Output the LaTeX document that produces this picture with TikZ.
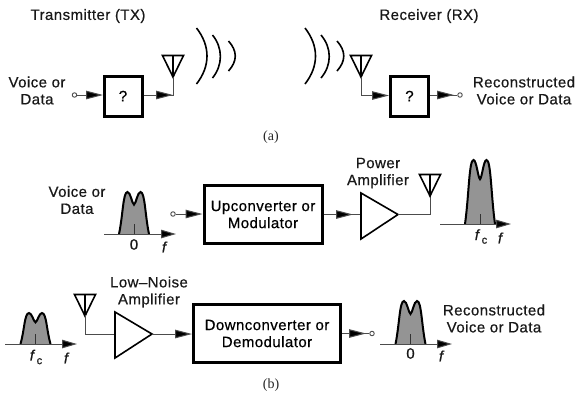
\documentclass[tikz,border=0pt]{standalone}
\usepackage{fontspec}
\setmainfont[FakeBold=0.55,LetterSpace=3]{Liberation Sans}
\newfontfamily\capfont{Liberation Serif}
\usetikzlibrary{arrows.meta}
\newcommand{\lbl}{\fontsize{15}{17}\selectfont}
\tikzset{
  wire/.style={line width=1pt,draw=black!70},
  tipped/.style={wire,-{Triangle[length=17pt,width=8.5pt,fill=black]}},
  thickbox/.style={draw=black,line width=3pt,fill=white,align=center,inner sep=0pt,font=\lbl},
  term/.style={circle,draw=black!70,line width=0.9pt,fill=white,minimum size=4.5pt,inner sep=0pt},
  lbl/.style={font=\lbl,align=center,inner sep=0pt,text=black!90},
  captext/.style={font=\capfont\fontsize{14}{16}\selectfont,inner sep=0pt,text=black!85},
  wave/.style={line width=1.6pt,draw=black},
  amp/.style={line width=1.6pt,draw=black,fill=white,line join=miter},
  ant/.style={line width=1.6pt,draw=black,line join=miter},
  spec/.style={line width=2pt,draw=black},
  axisline/.style={wire,-{Triangle[length=15pt,width=8.5pt,fill=black]}},
  ticky/.style={line width=0.7pt,draw=black!80},
  pics/antenna/.style={code={
    \draw[ant] (-10.5,0) -- (10.5,0) -- (0,21.5) -- cycle;
    \draw[line width=1.2pt,draw=black] (0,0) -- (0,21.5);
  }},
}
\newcommand{\spectrum}[3]{% centre x, base y, height
  \fill[black!42] (#1-15,#2) .. controls (#1-11,#2-0.45*#3) and (#1-11,#2-#3) .. (#1-6.5,#2-#3)
    .. controls (#1-3.5,#2-#3) and (#1-2,#2-0.72*#3) .. (#1,#2-0.70*#3)
    .. controls (#1+2,#2-0.72*#3) and (#1+3.5,#2-#3) .. (#1+6.5,#2-#3)
    .. controls (#1+11,#2-#3) and (#1+11,#2-0.45*#3) .. (#1+15,#2) -- cycle;
  \draw[spec] (#1-15,#2) .. controls (#1-11,#2-0.45*#3) and (#1-11,#2-#3) .. (#1-6.5,#2-#3)
    .. controls (#1-3.5,#2-#3) and (#1-2,#2-0.72*#3) .. (#1,#2-0.70*#3)
    .. controls (#1+2,#2-0.72*#3) and (#1+3.5,#2-#3) .. (#1+6.5,#2-#3)
    .. controls (#1+11,#2-#3) and (#1+11,#2-0.45*#3) .. (#1+15,#2);
  \draw[ticky] (#1,#2) -- (#1,#2-10);
}
\newcommand{\fc}{\textit{f}\kern1pt\raisebox{-3.5pt}{\fontsize{11}{11}\selectfont c}}
\begin{document}
\begin{tikzpicture}[x=1pt,y=-1pt]
\useasboundingbox (0,0) rectangle (577,392);
% ---- (a) TX
\node[lbl] (txt) at (88,16) {Transmitter (TX)};
\node[lbl] (vin) at (37,90.5) {Voice or\\Data};
\node[term] (tin) at (74.5,95) {};
\node[thickbox,minimum width=38pt,minimum height=40pt] (q1) at (123,96) {?};
\coordinate (q1tip) at (103,95);
\draw[tipped] (tin) -- (q1tip);
\pic at (173,55.5) {antenna};
\coordinate (a1) at (173,77);
\coordinate (a1b) at (173,95);
\draw[wire] (q1.east |- a1b) -- (a1b) -- (a1);
\draw[tipped] (q1.east |- a1b) -- (a1b);
\draw[wave] (196.5,28) .. controls (210.5,46) and (210.5,66) .. (196.5,84);
\draw[wave] (212.5,35) .. controls (223,48) and (223,65) .. (212.5,78);
\draw[wave] (228.5,41) .. controls (237.5,51) and (237.5,61) .. (228.5,71);
\node[captext] (capa) at (271,137) {(a)};
% ---- (a) RX
\node[lbl] (rxt) at (429,16) {Receiver (RX)};
\draw[wave] (305,28) .. controls (319,46) and (319,66) .. (305,84);
\draw[wave] (321,35) .. controls (332,48) and (332,65) .. (321,78);
\draw[wave] (337,41) .. controls (346,51) and (346,61) .. (337,71);
\pic at (361,55.5) {antenna};
\coordinate (a2) at (361,77);
\coordinate (a2b) at (361,95.5);
\node[thickbox,minimum width=38pt,minimum height=40pt] (q2) at (409.5,96) {?};
\draw[wire] (a2) -- (a2b);
\draw[tipped] (a2b) -- (q2.west |- a2b);
\node[term] (tout) at (460,95) {};
\coordinate (q2tip) at (454,95);
\draw[wire] (q2.east |- tout) -- (tout);
\draw[tipped] (q2.east |- tout) -- (q2tip);
\node[lbl] (vout) at (524,90.5) {Reconstructed\\Voice or Data};
% ---- (b) upper
\node[lbl] (vin2) at (77,200) {Voice or\\Data};
\spectrum{134}{234}{42}
\coordinate (ax1s) at (104,234); \coordinate (ax1e) at (176,234);
\draw[axisline] (ax1s) -- (ax1e);
\node[lbl] (z1) at (134,244.5) {0};
\node[lbl] (f1) at (164,247) {\itshape f};
\node[term] (tin2) at (173,214) {};
\node[thickbox,minimum width=118pt,minimum height=58pt] (up) at (263,214.5) {Upconverter or\\Modulator};
\draw[tipped] (tin2) -- (up.west |- tin2);
\coordinate (pa1) at (361,193); \coordinate (pa2) at (361,239); \coordinate (pa3) at (398,214.5);
\coordinate (pain) at (361,214.5); \coordinate (patip) at (353,214.5);
\draw[wire] (up.east |- pain) -- (pain);
\draw[tipped] (up.east |- pain) -- (patip);
\draw[amp] (pa1) -- (pa3) -- (pa2) -- cycle;
\coordinate (a3b) at (430,214.5); \coordinate (a3) at (430,195);
\draw[wire] (pa3) -- (a3b) -- (a3);
\pic at (430,174.5) {antenna};
\node[lbl] (pat) at (378,173) {Power\\Amplifier};
\spectrum{480}{224}{64}
\coordinate (ax2s) at (440,224); \coordinate (ax2e) at (511,224);
\draw[axisline] (ax2s) -- (ax2e);
\node[lbl] (f2c) at (481,236.5) {\fc};
\node[lbl] (f2) at (500,238) {\itshape f};
% ---- (b) lower
\spectrum{35.5}{344}{31}
\coordinate (ax3s) at (5,344); \coordinate (ax3e) at (77,344);
\draw[axisline] (ax3s) -- (ax3e);
\node[lbl] (f3c) at (36,357) {\fc};
\node[lbl] (f3) at (66,358) {\itshape f};
\pic at (85,294.5) {antenna};
\coordinate (a4) at (85,315); \coordinate (a4b) at (85,334);
\coordinate (na1) at (115,312); \coordinate (na2) at (115,358); \coordinate (na3) at (152,334);
\draw[wire] (a4) -- (a4b) -- (na1 |- a4b);
\draw[amp] (na1) -- (na3) -- (na2) -- cycle;
\node[lbl] (lnt) at (149,292) {Low–Noise\\Amplifier};
\node[thickbox,minimum width=147pt,minimum height=58pt] (down) at (267,333.5) {Downconverter or\\Demodulator};
\draw[tipped] (na3) -- (down.west |- na3);
\node[term] (tout2) at (372,333.5) {};
\coordinate (dtip) at (366,333.5);
\draw[wire] (down.east |- tout2) -- (tout2);
\draw[tipped] (down.east |- tout2) -- (dtip);
\spectrum{410.5}{344}{43}
\coordinate (ax4s) at (380,344); \coordinate (ax4e) at (452,344);
\draw[axisline] (ax4s) -- (ax4e);
\node[lbl] (z2) at (410.5,353.5) {0};
\node[lbl] (f4) at (441,356) {\itshape f};
\node[lbl] (vout2) at (494,318.5) {Reconstructed\\Voice or Data};
\node[captext] (capb) at (271,385) {(b)};
\end{tikzpicture}
\end{document}
